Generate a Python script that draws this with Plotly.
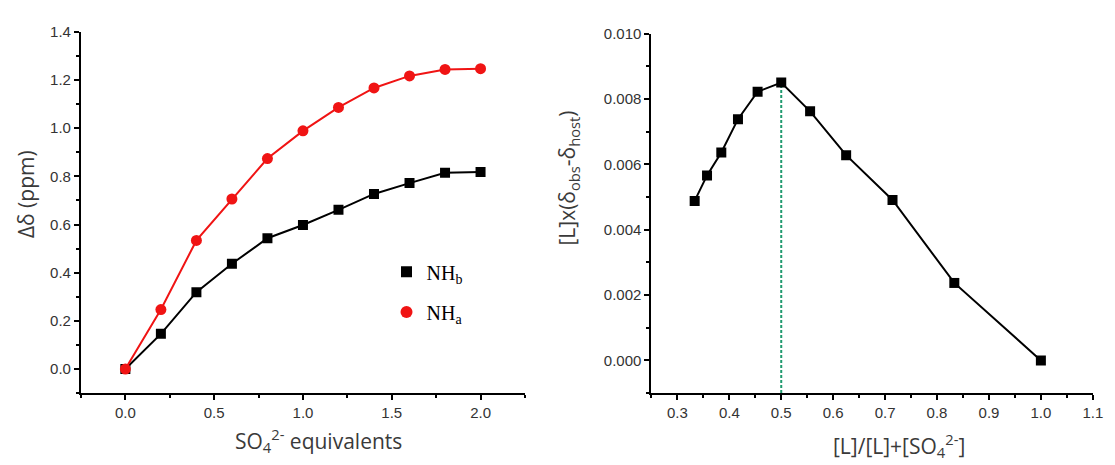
import plotly.graph_objects as go

W, H = 1115, 465

# ---- data (left panel: titration) ----
so4_equiv = [0.0, 0.2, 0.4, 0.6, 0.8, 1.0, 1.2, 1.4, 1.6, 1.8, 2.0]
nh_a = [0.0, 0.247, 0.534, 0.706, 0.874, 0.989, 1.086, 1.167, 1.217, 1.244, 1.247]
nh_b = [0.0, 0.146, 0.319, 0.437, 0.543, 0.598, 0.661, 0.727, 0.772, 0.815, 0.818]

# ---- data (right panel: Job plot) ----
mole_frac = [0.3333, 0.3571, 0.3846, 0.4167, 0.4545, 0.5, 0.5556, 0.625, 0.7143, 0.8333, 1.0]
job_val = [0.00488, 0.00566, 0.00636, 0.00738, 0.00822, 0.0085, 0.00762, 0.00628, 0.00491, 0.00237, 0.0]

left_xrange = [-0.25, 2.25]
left_yrange = [-0.1, 1.4]
right_xrange = [0.25, 1.1]
right_yrange = [-0.001, 0.010]

def px_x(p):
    return p / W

def px_y(p):
    return (H - p) / H

RED = "#f01414"
BLACK = "#000000"
GREEN = "#1f9a6e"
TICK_FONT = dict(family="Liberation Sans, Arial", size=15, color="#333333")
TITLE_FONT = dict(family="Open Sans, Noto Sans, sans-serif", size=21, color="#3a3a3a")

fig = go.Figure()

fig.add_trace(go.Scatter(x=so4_equiv, y=nh_b, mode="lines+markers",
                         line=dict(color=BLACK, width=2),
                         marker=dict(symbol="square", size=10, color=BLACK),
                         showlegend=False, xaxis="x", yaxis="y"))
fig.add_trace(go.Scatter(x=so4_equiv, y=nh_a, mode="lines+markers",
                         line=dict(color=RED, width=2),
                         marker=dict(symbol="circle", size=11, color=RED),
                         showlegend=False, xaxis="x", yaxis="y"))
# legend-only entries (markers only)
fig.add_trace(go.Scatter(x=[None], y=[None], mode="markers", name="NH<sub>b</sub>",
                         marker=dict(symbol="square", size=11, color=BLACK),
                         legend="legend", xaxis="x", yaxis="y"))
fig.add_trace(go.Scatter(x=[None], y=[None], mode="markers", name="NH<sub>a</sub>",
                         marker=dict(symbol="circle", size=12, color=RED),
                         legend="legend2", xaxis="x", yaxis="y"))

# Job plot: dashed vertical line at maximum
imax = job_val.index(max(job_val))
fig.add_trace(go.Scatter(x=[mole_frac[imax], mole_frac[imax]],
                         y=[right_yrange[0], job_val[imax]], mode="lines",
                         line=dict(color=GREEN, width=2, dash="3px,2px"),
                         showlegend=False, xaxis="x2", yaxis="y2"))
fig.add_trace(go.Scatter(x=mole_frac, y=job_val, mode="lines+markers",
                         line=dict(color=BLACK, width=2),
                         marker=dict(symbol="square", size=10, color=BLACK),
                         showlegend=False, xaxis="x2", yaxis="y2"))

axis_common = dict(showgrid=False, zeroline=False, showline=True, linecolor=BLACK,
                   linewidth=2, ticks="outside", ticklen=5, tickwidth=2, tickcolor=BLACK,
                   tickfont=TICK_FONT, mirror=False)

fig.update_layout(
    width=W, height=H, autosize=False,
    margin=dict(l=0, r=0, t=0, b=0),
    paper_bgcolor="white", plot_bgcolor="white",
    xaxis=dict(axis_common, domain=[px_x(81.7), px_x(529.7)], range=left_xrange,
               tickmode="array", tickvals=[0, 0.5, 1.0, 1.5, 2.0],
               ticktext=["0.0", "0.5", "1.0", "1.5", "2.0"],
               minor=dict(ticks="outside", ticklen=3, tickwidth=2, tickcolor=BLACK,
                          tickvals=[-0.25, 0.25, 0.75, 1.25, 1.75, 2.25]),
               anchor="y"),
    yaxis=dict(axis_common, domain=[px_y(391.7), px_y(23.3)], range=left_yrange,
               tickmode="array", tickvals=[0, 0.2, 0.4, 0.6, 0.8, 1.0, 1.2, 1.4],
               ticktext=["0.0", "0.2", "0.4", "0.6", "0.8", "1.0", "1.2", "1.4"],
               minor=dict(ticks="outside", ticklen=3, tickwidth=2, tickcolor=BLACK,
                          tickvals=[-0.1, 0.1, 0.3, 0.5, 0.7, 0.9, 1.1, 1.3]),
               anchor="x"),
    xaxis2=dict(axis_common, domain=[px_x(657.3), px_x(1102.7)], range=right_xrange,
                tickmode="array", tickvals=[0.3, 0.4, 0.5, 0.6, 0.7, 0.8, 0.9, 1.0, 1.1],
                ticktext=["0.3", "0.4", "0.5", "0.6", "0.7", "0.8", "0.9", "1.0", "1.1"],
                minor=dict(ticks="outside", ticklen=3, tickwidth=2, tickcolor=BLACK,
                           tickvals=[0.25, 0.35, 0.45, 0.55, 0.65, 0.75, 0.85, 0.95, 1.05]),
                anchor="y2"),
    yaxis2=dict(axis_common, domain=[px_y(391.7), px_y(25)], range=right_yrange,
                tickmode="array", tickvals=[0, 0.002, 0.004, 0.006, 0.008, 0.010],
                ticktext=["0.000", "0.002", "0.004", "0.006", "0.008", "0.010"],
                minor=dict(ticks="outside", ticklen=3, tickwidth=2, tickcolor=BLACK,
                           tickvals=[-0.001, 0.001, 0.003, 0.005, 0.007, 0.009]),
                anchor="x2"),
    legend=dict(x=px_x(390), y=px_y(268), xanchor="left", yanchor="middle",
                bgcolor="rgba(0,0,0,0)", borderwidth=0,
                font=dict(family="Liberation Serif, Times New Roman, serif", size=20, color=BLACK)),
    legend2=dict(x=px_x(390), y=px_y(309), xanchor="left", yanchor="middle",
                 bgcolor="rgba(0,0,0,0)", borderwidth=0,
                 font=dict(family="Liberation Serif, Times New Roman, serif", size=20, color=BLACK)),
)

annotations = [
    dict(text="SO<sub>4</sub><sup>2-</sup> equivalents", x=px_x(321), y=px_y(440),
         xanchor="center", yanchor="middle"),
    dict(text="Δδ (ppm)", x=px_x(27), y=px_y(189), textangle=-90,
         xanchor="center", yanchor="middle"),
    dict(text="[L]/[L]+[SO<sub>4</sub><sup>2-</sup>]", x=px_x(907), y=px_y(445),
         xanchor="center", yanchor="middle"),
    dict(text="[L]x(δ<sub>obs</sub>-δ<sub>host</sub>)", x=px_x(573), y=px_y(172), textangle=-90,
         xanchor="center", yanchor="middle"),
]
for a in annotations:
    a.update(xref="paper", yref="paper", showarrow=False, font=TITLE_FONT)
fig.update_layout(annotations=annotations)

fig.write_html("out.html")
